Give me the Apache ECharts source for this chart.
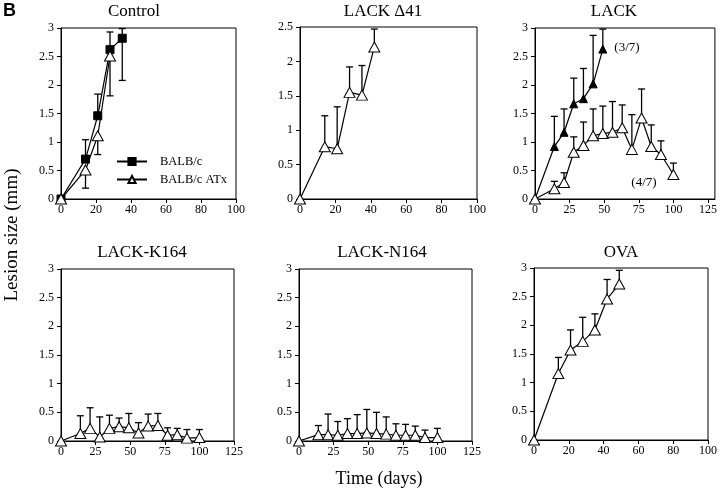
<!DOCTYPE html>
<html><head><meta charset="utf-8">
<script src="https://cdn.jsdelivr.net/npm/echarts@6/dist/echarts.min.js"></script>
<style>html,body{margin:0;padding:0;background:#fff}#c{width:720px;height:489px}</style>
</head><body><div id="c"></div>
<script>
// ---------- data ----------
const panelTitles = ['Control', 'LACK \u039441', 'LACK', 'LACK-K164', 'LACK-N164', 'OVA'];

const ctrlDays = [0, 14, 21, 28, 35];
const ctrlBalb = [0, 0.70, 1.46, 2.62, 2.82];
const ctrlBalbHigh = [null, 1.04, 1.84, 2.93, 2.99];
const ctrlBalbLow = [null, null, null, null, 2.08];
const ctrlAtxDays = [0, 14, 21, 28];
const ctrlAtx = [0, 0.51, 1.11, 2.51];
const ctrlAtxLow = [null, 0.19, 0.78, 1.81];

const d41Days = [0, 14, 21, 28, 35, 42];
const d41 = [0, 0.76, 0.73, 1.55, 1.51, 2.21];
const d41High = [null, 1.21, 1.34, 1.92, 1.94, 2.47];

const lackFilledDays = [0, 14, 21, 28, 35, 42, 49];
const lackFilled = [0, 0.92, 1.17, 1.67, 1.76, 2.02, 2.63];
const lackFilledHigh = [null, 1.45, 1.58, 2.12, 2.29, 2.87, 2.98];

const longDays = [0, 14, 21, 28, 35, 42, 49, 56, 63, 70, 77, 84, 91, 100];
const lackOpen = [0, 0.18, 0.29, 0.82, 0.94, 1.11, 1.15, 1.17, 1.25, 0.87, 1.42, 0.92, 0.78, 0.43];
const lackOpenHigh = [null, 0.31, 0.46, 1.09, 1.35, 1.58, 1.63, 1.71, 1.65, 1.48, 1.93, 1.30, 1.02, 0.63];

const k164 = [0, 0.13, 0.22, 0.07, 0.22, 0.25, 0.23, 0.14, 0.26, 0.27, 0.10, 0.11, 0.05, 0.06];
const k164High = [null, 0.44, 0.58, 0.42, 0.45, 0.40, 0.48, 0.32, 0.47, 0.48, 0.23, 0.22, 0.20, 0.20];

const n164 = [0, 0.11, 0.11, 0.10, 0.13, 0.13, 0.14, 0.13, 0.12, 0.10, 0.10, 0.10, 0.06, 0.06];
const n164High = [null, 0.27, 0.47, 0.34, 0.39, 0.46, 0.55, 0.50, 0.42, 0.30, 0.29, 0.26, 0.19, 0.22];

const ovaDays = [0, 14, 21, 28, 35, 42, 49];
const ova = [0, 1.16, 1.57, 1.72, 1.92, 2.46, 2.72];
const ovaHigh = [null, 1.44, 1.92, 2.14, 2.20, 2.80, 2.96];

const xMax = [100, 100, 130, 125, 125, 100];
const xStep = [20, 20, 25, 25, 25, 20];
const yMax = [3, 2.5, 3, 3, 3, 3];

// ---------- layout ----------
const SERIF = '"Liberation Serif", "Times New Roman", serif';
const grids = [
  {left: 61, top: 28, width: 175, height: 171},
  {left: 300, top: 27, width: 177, height: 172},
  {left: 535, top: 28, width: 182, height: 171},
  {left: 61, top: 269, width: 173, height: 172},
  {left: 299, top: 269, width: 173, height: 172},
  {left: 534, top: 268, width: 174, height: 172}
];
const titlePos = [[134, 3], [383, 3], [614, 3], [142, 244], [382, 244], [621, 244]];

function pts(xs, ys) { return xs.map((x, i) => [x, ys[i]]); }
function errs(xs, ys, ends) {
  const out = [];
  xs.forEach((x, i) => { if (ends[i] != null) out.push([x, ys[i], ends[i]]); });
  return out;
}

const xAxes = grids.map((g, i) => ({
  gridIndex: i, type: 'value', min: 0, max: xMax[i], interval: xStep[i],
  axisLine: {show: true, lineStyle: {color: '#000', width: 1}},
  axisTick: {show: true, inside: false, length: 4, lineStyle: {color: '#000'}},
  axisLabel: {color: '#000', fontFamily: SERIF, fontSize: 12, margin: 5,
              showMaxLabel: i === 2 ? false : true},
  splitLine: {show: false}
}));
const yAxes = grids.map((g, i) => ({
  gridIndex: i, type: 'value', min: 0, max: yMax[i], interval: 0.5,
  axisLine: {show: true, lineStyle: {color: '#000', width: 1}},
  axisTick: {show: true, inside: false, length: 4, lineStyle: {color: '#000'}},
  axisLabel: {color: '#000', fontFamily: SERIF, fontSize: 12, margin: 7},
  splitLine: {show: false}
}));

const openTri = {symbol: 'triangle', symbolSize: [11, 10],
  itemStyle: {color: '#fff', borderColor: '#000', borderWidth: 1}};
const fillTri = {symbol: 'triangle', symbolSize: [8, 8],
  itemStyle: {color: '#000', borderColor: '#000', borderWidth: 1}};
const fillSq = {symbol: 'rect', symbolSize: [8, 8],
  itemStyle: {color: '#000', borderColor: '#000', borderWidth: 1}};

function lineSeries(name, idx, data, sym) {
  return Object.assign({
    name: name, type: 'line', xAxisIndex: idx, yAxisIndex: idx, data: data,
    showAllSymbol: true, z: 5, clip: false,
    lineStyle: {color: '#000', width: 1.2}
  }, sym);
}
function errSeries(idx, data) {
  return {
    type: 'custom', xAxisIndex: idx, yAxisIndex: idx, data: data, z: 2, clip: false,
    renderItem: function (params, api) {
      const x = api.value(0), a = api.value(1), b = api.value(2);
      const p1 = api.coord([x, a]), p2 = api.coord([x, b]);
      const w = 3.5;
      const st = {stroke: '#000', lineWidth: 1.3};
      return {type: 'group', children: [
        {type: 'line', shape: {x1: p1[0], y1: p1[1], x2: p2[0], y2: p2[1]}, style: st},
        {type: 'line', shape: {x1: p2[0] - w, y1: p2[1], x2: p2[0] + w, y2: p2[1]}, style: st}
      ]};
    }
  };
}

const series = [
  errSeries(0, errs(ctrlDays, ctrlBalb, ctrlBalbHigh)),
  errSeries(0, errs(ctrlDays, ctrlBalb, ctrlBalbLow)),
  errSeries(0, errs(ctrlAtxDays, ctrlAtx, ctrlAtxLow)),
  lineSeries('BALB/c', 0, pts(ctrlDays, ctrlBalb), fillSq),
  lineSeries('BALB/c ATx', 0, pts(ctrlAtxDays, ctrlAtx), openTri),

  errSeries(1, errs(d41Days, d41, d41High)),
  lineSeries('d41', 1, pts(d41Days, d41), openTri),

  errSeries(2, errs(lackFilledDays, lackFilled, lackFilledHigh)),
  errSeries(2, errs(longDays, lackOpen, lackOpenHigh)),
  lineSeries('lackF', 2, pts(lackFilledDays, lackFilled), fillTri),
  lineSeries('lackO', 2, pts(longDays, lackOpen), openTri),

  errSeries(3, errs(longDays, k164, k164High)),
  lineSeries('k164', 3, pts(longDays, k164), openTri),

  errSeries(4, errs(longDays, n164, n164High)),
  lineSeries('n164', 4, pts(longDays, n164), openTri),

  errSeries(5, errs(ovaDays, ova, ovaHigh)),
  lineSeries('ova', 5, pts(ovaDays, ova), openTri)
];

const graphics = panelTitles.map((t, i) => ({
  type: 'text', x: titlePos[i][0], y: titlePos[i][1],
  style: {text: t, fill: '#000', font: '17px ' + SERIF, textAlign: 'center', textVerticalAlign: 'top'}
}));
graphics.push(
  {type: 'text', x: 3, y: 2, style: {text: 'B', fill: '#000', font: 'bold 18px "Liberation Sans", Arial, sans-serif', textVerticalAlign: 'top'}},
  {type: 'text', x: 627, y: 48, style: {text: '(3/7)', fill: '#000', font: '13px ' + SERIF, textAlign: 'center', textVerticalAlign: 'middle'}},
  {type: 'text', x: 644, y: 183, style: {text: '(4/7)', fill: '#000', font: '13px ' + SERIF, textAlign: 'center', textVerticalAlign: 'middle'}},
  {type: 'text', x: 12, y: 235, rotation: Math.PI / 2,
   style: {text: 'Lesion size (mm)', fill: '#000', font: '19px ' + SERIF, textAlign: 'center', textVerticalAlign: 'middle'}},
  {type: 'text', x: 379, y: 479,
   style: {text: 'Time (days)', fill: '#000', font: '18px ' + SERIF, textAlign: 'center', textVerticalAlign: 'middle'}}
);

const chart = echarts.init(document.getElementById('c'), null, {renderer: 'canvas'});
chart.setOption({
  animation: false,
  backgroundColor: '#fff',
  grid: grids.map(g => Object.assign({show: true, borderColor: '#000', borderWidth: 1, backgroundColor: 'transparent'}, g)),
  xAxis: xAxes,
  yAxis: yAxes,
  legend: {
    data: ['BALB/c', 'BALB/c ATx'], orient: 'vertical', left: 111, top: 150,
    itemWidth: 30, itemHeight: 9, itemGap: 5, selectedMode: false,
    textStyle: {color: '#000', fontFamily: SERIF, fontSize: 12.5, padding: [0, 0, 0, 8]}
  },
  series: series,
  graphic: graphics
});
</script></body></html>
